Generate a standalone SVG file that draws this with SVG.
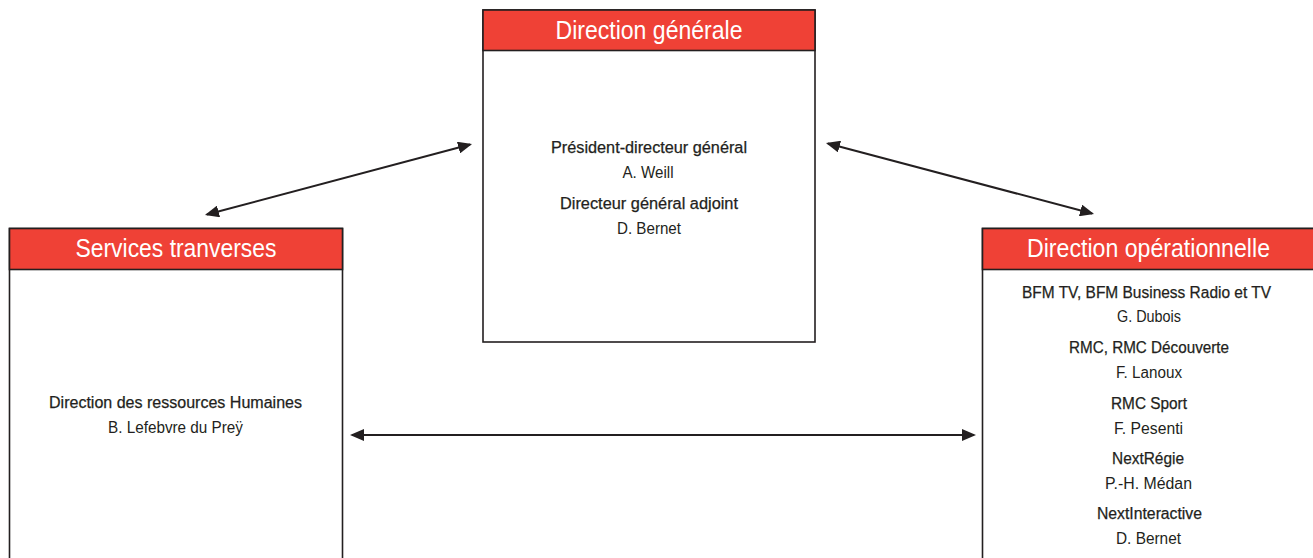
<svg xmlns="http://www.w3.org/2000/svg" width="1313" height="558" viewBox="0 0 1313 558">
<style>
.box{fill:#fff;stroke:#231f20;stroke-width:1.6}
.hdr{fill:#ef4136;stroke:#231f20;stroke-width:1.6}
.ht{font-family:"Liberation Sans Narrow","Liberation Sans",Arial,sans-serif;font-size:25px;fill:#fff;text-anchor:middle}
.t{font-family:"Liberation Sans Narrow","Liberation Sans",Arial,sans-serif;font-size:16px;fill:#231f20;text-anchor:middle;stroke:#231f20;stroke-width:0.25}
.n{font-family:"Liberation Sans Narrow","Liberation Sans",Arial,sans-serif;font-size:16px;fill:#231f20;text-anchor:middle}
.c{stroke:#231f20;stroke-width:2;fill:none;marker-start:url(#ah);marker-end:url(#ah)}
</style>
<defs>
<marker id="ah" markerUnits="userSpaceOnUse" markerWidth="14" markerHeight="12" refX="12" refY="6" orient="auto-start-reverse" viewBox="0 0 14 12">
<path d="M0,0 L14,6 L0,12 z" fill="#231f20"/>
</marker>
</defs>
<rect width="1313" height="558" fill="#fff"/>
<g id="direction-generale">
<rect class="box" x="483" y="10" width="332" height="332"/>
<rect class="hdr" x="483" y="10" width="332" height="40.5"/>
<text class="ht" x="649" y="38.5" textLength="187" lengthAdjust="spacingAndGlyphs">Direction générale</text>
<text class="t" x="649" y="152.5" textLength="196" lengthAdjust="spacingAndGlyphs">Président-directeur général</text>
<text class="n" x="648" y="178" textLength="51" lengthAdjust="spacingAndGlyphs">A. Weill</text>
<text class="t" x="649" y="209" textLength="178" lengthAdjust="spacingAndGlyphs">Directeur général adjoint</text>
<text class="n" x="649" y="234" textLength="64" lengthAdjust="spacingAndGlyphs">D. Bernet</text>
</g>
<g id="services-transverses">
<rect class="box" x="9.5" y="228.5" width="333" height="340"/>
<rect class="hdr" x="9.5" y="228.5" width="333" height="41"/>
<text class="ht" x="176" y="257" textLength="201" lengthAdjust="spacingAndGlyphs">Services tranverses</text>
<text class="t" x="175.5" y="407.5" textLength="253" lengthAdjust="spacingAndGlyphs">Direction des ressources Humaines</text>
<text class="n" x="175.5" y="433" textLength="135" lengthAdjust="spacingAndGlyphs">B. Lefebvre du Preÿ</text>
</g>
<g id="direction-operationnelle">
<rect class="box" x="982.5" y="228.5" width="340" height="340"/>
<rect class="hdr" x="982.5" y="228.5" width="340" height="41"/>
<text class="ht" x="1148.5" y="257" textLength="243" lengthAdjust="spacingAndGlyphs">Direction opérationnelle</text>
<text class="t" x="1146.5" y="297.5" textLength="249" lengthAdjust="spacingAndGlyphs">BFM TV, BFM Business Radio et TV</text>
<text class="n" x="1149" y="322" textLength="64" lengthAdjust="spacingAndGlyphs">G. Dubois</text>
<text class="t" x="1149" y="353" textLength="160" lengthAdjust="spacingAndGlyphs">RMC, RMC Découverte</text>
<text class="n" x="1149" y="378" textLength="66" lengthAdjust="spacingAndGlyphs">F. Lanoux</text>
<text class="t" x="1149" y="408.5" textLength="76" lengthAdjust="spacingAndGlyphs">RMC Sport</text>
<text class="n" x="1148.5" y="434" textLength="69" lengthAdjust="spacingAndGlyphs">F. Pesenti</text>
<text class="t" x="1148" y="463.5" textLength="72" lengthAdjust="spacingAndGlyphs">NextRégie</text>
<text class="n" x="1148.5" y="489" textLength="87" lengthAdjust="spacingAndGlyphs">P.-H. Médan</text>
<text class="t" x="1149.5" y="519" textLength="105" lengthAdjust="spacingAndGlyphs">NextInteractive</text>
<text class="n" x="1148.5" y="544" textLength="65" lengthAdjust="spacingAndGlyphs">D. Bernet</text>
</g>
<g id="connectors">
<line class="c" x1="206.9" y1="214.5" x2="470.1" y2="144.5"/>
<line class="c" x1="827.9" y1="143.5" x2="1092.1" y2="213.5"/>
<line class="c" x1="352" y1="435" x2="974" y2="435"/>
</g>
</svg>
